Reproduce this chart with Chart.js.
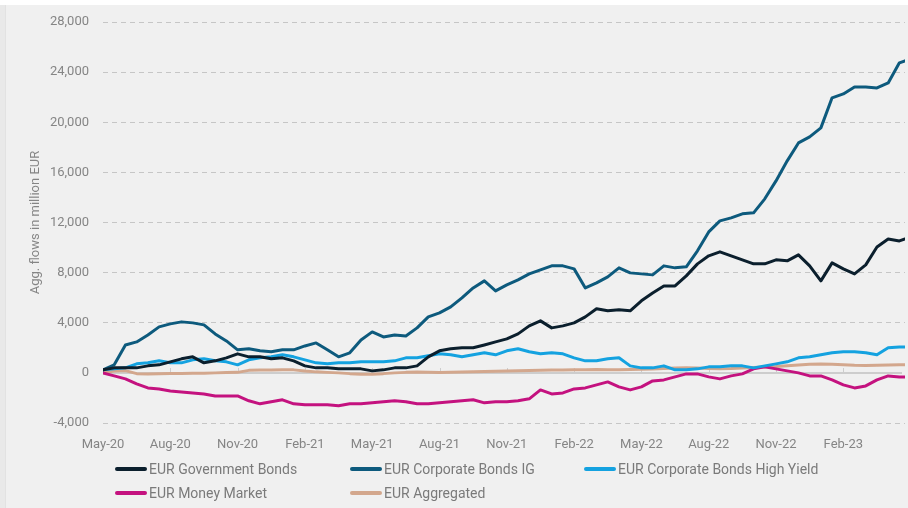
<!DOCTYPE html>
<html>
<head>
<meta charset="utf-8">
<script src="https://cdn.jsdelivr.net/npm/chart.js@4.4.0/dist/chart.umd.min.js"></script>
<style>
    html, body { margin: 0; padding: 0; background: #fff; }
    #wrap { position: absolute; left: 0; top: 0; width: 908px; height: 508px; background: #f0f0f0; overflow: hidden; }
    #topStrip { position: absolute; left: 0; top: 0; width: 908px; height: 5px; background: #fff; }
    #leftStrip { position: absolute; left: 0; top: 5px; width: 5px; height: 503px; background: #e9e9e9; border-right: 1px solid #e2e2e2; }
    #chart { position: absolute; left: 0; top: 0; }
    .item { position: absolute; height: 20px; display: flex; align-items: center; font-family: Roboto, sans-serif; font-size: 14px; color: #7a7a7a; white-space: nowrap; }
    .swatch { width: 32px; height: 4px; border-radius: 2px; margin-right: 2px; }
</style>
</head>
<body>
<div id="wrap">
    <div id="topStrip"></div>
    <div id="leftStrip"></div>
    <canvas id="chart" width="908" height="508"></canvas>
    <div id="legend"></div>
</div>
<script>
// x positions in months since May-20 (half-month steps, last point mid-May-23)
const months = [];
for (let i = 0; i <= 71; i++) months.push(i / 2);
months.push(35.75);

const tickMonths = [0, 3, 6, 9, 12, 15, 18, 21, 24, 27, 30, 33];
const tickLabels = ['May-20', 'Aug-20', 'Nov-20', 'Feb-21', 'May-21', 'Aug-21',
    'Nov-21', 'Feb-22', 'May-22', 'Aug-22', 'Nov-22', 'Feb-23'];

const seriesNames = ['EUR Government Bonds', 'EUR Corporate Bonds IG', 'EUR Corporate Bonds High Yield',
    'EUR Money Market', 'EUR Aggregated'];
const seriesColors = ['#0b1f2d', '#0d5a7d', '#14a2e0', '#c4127f', '#d3a78d'];

// aggregated flows, million EUR
const govBonds = [240, 400, 400, 400, 560, 640, 880, 1120, 1280, 800,
    960, 1200, 1520, 1280, 1280, 1120, 1200, 960, 560, 400,
    400, 320, 320, 320, 160, 240, 400, 400, 560, 1280,
    1760, 1920, 2000, 2000, 2230, 2470, 2710, 3110, 3750, 4150,
    3590, 3750, 3990, 4470, 5110, 4950, 5030, 4950, 5750, 6380,
    6940, 6940, 7740, 8700, 9340, 9660, 9340, 9020, 8700, 8700,
    9020, 8940, 9420, 8540, 7340, 8780, 8300, 7900, 8620, 10050,
    10690, 10530, 10690];
const corpIG = [240, 640, 2230, 2470, 3030, 3670, 3910, 4070, 3990, 3830,
    3110, 2550, 1840, 1920, 1760, 1680, 1840, 1840, 2150, 2390,
    1840, 1280, 1600, 2630, 3270, 2870, 3030, 2950, 3590, 4470,
    4790, 5270, 5990, 6780, 7340, 6540, 7020, 7420, 7900, 8220,
    8540, 8540, 8300, 6780, 7180, 7660, 8380, 7980, 7900, 7820,
    8540, 8380, 8460, 9740, 11250, 12130, 12370, 12690, 12770, 13890,
    15320, 16920, 18350, 18830, 19550, 21950, 22260, 22820, 22820, 22740,
    23140, 24740, 24900];
const corpHY = [240, 320, 400, 720, 800, 960, 800, 800, 1040, 1120,
    960, 880, 640, 1040, 1200, 1280, 1440, 1280, 1040, 800,
    720, 800, 800, 880, 880, 880, 960, 1200, 1200, 1360,
    1520, 1440, 1280, 1440, 1600, 1440, 1760, 1920, 1680, 1520,
    1600, 1520, 1200, 960, 960, 1120, 1200, 560, 400, 400,
    560, 240, 240, 320, 480, 480, 560, 560, 400, 560,
    720, 880, 1200, 1280, 1440, 1600, 1680, 1680, 1600, 1440,
    2000, 2070, 2070];
const moneyMarket = [0, -240, -480, -880, -1200, -1280, -1440, -1520, -1600, -1680,
    -1840, -1840, -1840, -2230, -2470, -2310, -2150, -2470, -2550, -2550,
    -2550, -2630, -2470, -2470, -2390, -2310, -2230, -2310, -2470, -2470,
    -2390, -2310, -2230, -2150, -2390, -2310, -2310, -2230, -2070, -1360,
    -1680, -1600, -1280, -1200, -960, -720, -1120, -1360, -1120, -640,
    -560, -320, -80, -80, -320, -480, -240, -80, 320, 480,
    320, 160, 0, -240, -240, -560, -960, -1200, -1040, -560,
    -240, -320, -320];
const aggregated = [0, 150, 180, -60, -80, -60, -50, -40, -30, -20,
    0, 20, 40, 200, 220, 230, 240, 240, 150, 80,
    40, 0, -60, -100, -100, -60, 0, 40, 60, 40,
    30, 40, 60, 80, 100, 130, 150, 170, 190, 200,
    220, 230, 240, 250, 260, 250, 250, 260, 280, 300,
    340, 380, 400, 380, 340, 320, 340, 380, 420, 460,
    500, 560, 620, 680, 700, 680, 640, 600, 580, 600,
    620, 640, 650];

const seriesValues = [govBonds, corpIG, corpHY, moneyMarket, aggregated];

const TEXT = '#858585';
const FONT = 'Roboto, sans-serif';

// solid zero line with small quarter ticks, like the original axis
const zeroLine = {
    id: 'zeroLine',
    beforeDatasetsDraw(chart) {
        const { ctx, chartArea, scales: { x, y } } = chart;
        const y0 = Math.round(y.getPixelForValue(0));
        ctx.save();
        ctx.strokeStyle = '#cdcdcd';
        ctx.lineWidth = 2;
        ctx.beginPath();
        ctx.moveTo(chartArea.left, y0);
        ctx.lineTo(chartArea.right - 3, y0);
        ctx.stroke();
        ctx.lineWidth = 1;
        ctx.beginPath();
        x.ticks.forEach(t => {
            const px = Math.round(x.getPixelForValue(t.value)) + 0.5;
            ctx.moveTo(px, y0);
            ctx.lineTo(px, y0 - 5);
        });
        ctx.stroke();
        ctx.restore();
    }
};

new Chart(document.getElementById('chart'), {
    type: 'line',
    data: {
        datasets: seriesNames.map((name, i) => ({
            label: name,
            data: months.map((m, j) => ({ x: m, y: seriesValues[i][j] })),
            borderColor: seriesColors[i],
            borderWidth: 3,
            pointRadius: 0,
            tension: 0,
            borderJoinStyle: 'round',
            borderCapStyle: 'round',
            fill: false,
        })),
    },
    options: {
        responsive: false,
        animation: false,
        layout: { padding: { top: 22, right: 3, left: 0, bottom: 0 } },
        plugins: {
            legend: { display: false },
            tooltip: { enabled: false },
        },
        scales: {
            x: {
                type: 'linear',
                min: 0,
                max: 35.75,
                grid: { display: false },
                border: { display: false },
                afterBuildTicks: s => { s.ticks = tickMonths.map(v => ({ value: v })); },
                afterFit: s => { s.height = 85; },
                ticks: {
                    autoSkip: false,
                    maxRotation: 0,
                    padding: 6,
                    color: TEXT,
                    font: { family: FONT, size: 13 },
                    callback: v => tickLabels[tickMonths.indexOf(v)],
                },
            },
            y: {
                min: -4000,
                max: 28000,
                afterFit: s => { s.width = 103; },
                grid: {
                    color: ctx => ctx.tick && ctx.tick.value === 0 ? 'transparent' : '#c6c6c6',
                    lineWidth: 1,
                    drawTicks: false,
                },
                border: { display: false, dash: [5, 4] },
                ticks: {
                    stepSize: 4000,
                    padding: 14,
                    color: TEXT,
                    font: { family: FONT, size: 13 },
                    callback: v => v.toLocaleString('en-US'),
                },
                title: {
                    display: true,
                    text: 'Agg. flows in million EUR',
                    color: TEXT,
                    font: { family: FONT, size: 13 },
                    padding: { top: 28, bottom: 0 },
                },
            },
        },
    },
    plugins: [zeroLine],
});

// legend laid out as a 3-column grid below the axis
const legendCols = [115, 350, 584];
const legendRows = [459, 483];
const legendEl = document.getElementById('legend');
seriesNames.forEach((name, i) => {
    const item = document.createElement('div');
    item.className = 'item';
    item.style.left = legendCols[i % 3] + 'px';
    item.style.top = legendRows[Math.floor(i / 3)] + 'px';
    const sw = document.createElement('span');
    sw.className = 'swatch';
    sw.style.background = seriesColors[i];
    item.appendChild(sw);
    item.appendChild(document.createTextNode(name));
    legendEl.appendChild(item);
});
</script>
</body>
</html>
